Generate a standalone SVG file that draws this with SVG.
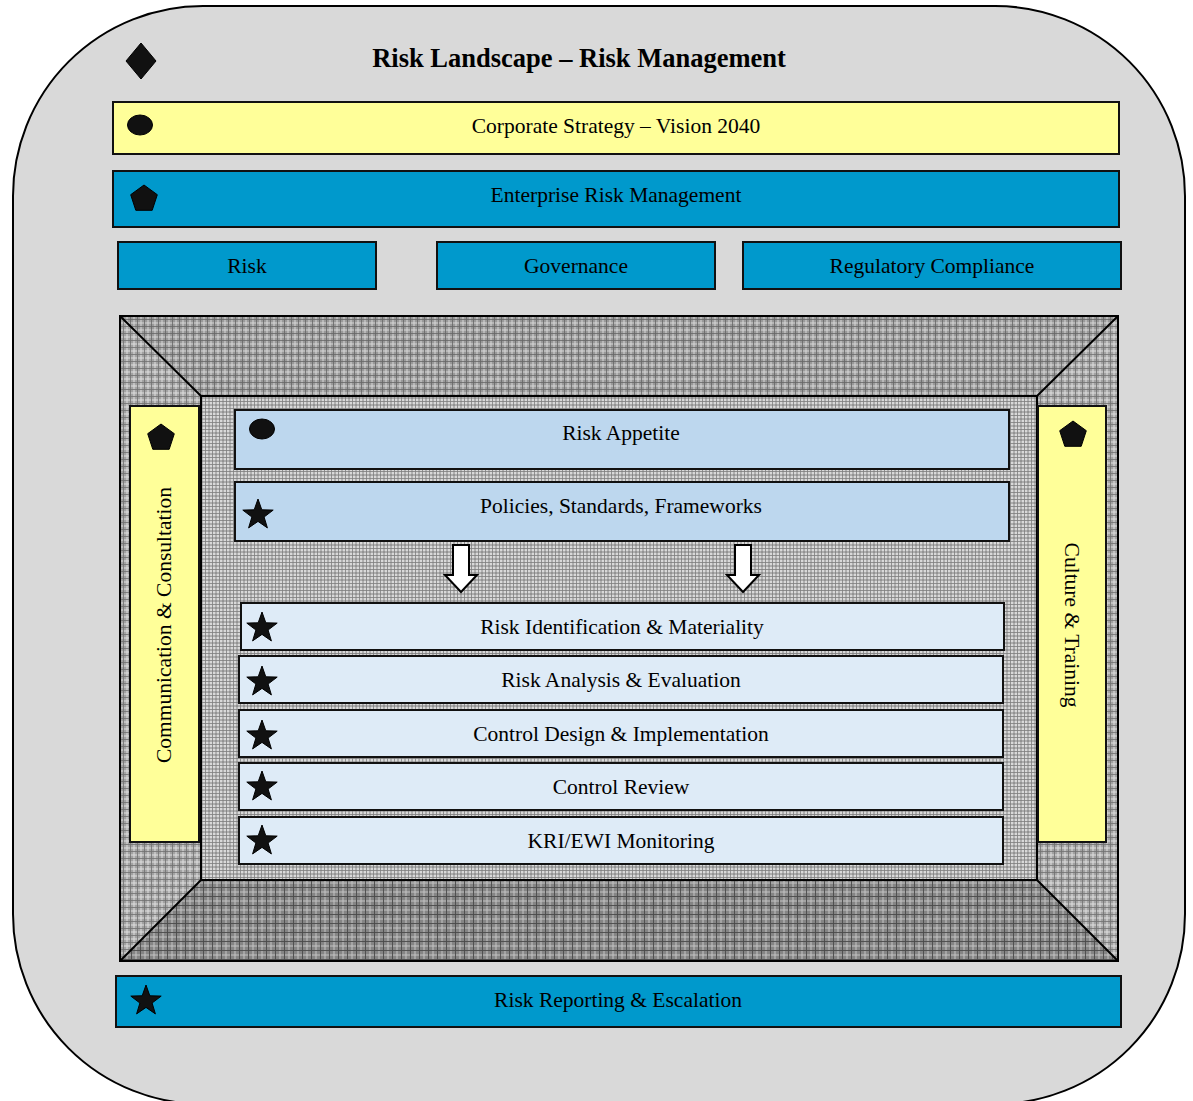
<svg xmlns="http://www.w3.org/2000/svg" width="1193" height="1101" viewBox="0 0 1193 1101">
<style>
.t{font-family:"Liberation Serif","Times New Roman",serif;font-size:21.5px;fill:#000;text-anchor:middle;dominant-baseline:central}
.b{stroke:#111;stroke-width:2}
.y{fill:#FFFF99}
.bl{fill:#0099CC}
.lb{fill:#BDD7EE}
.xb{fill:#DEEBF7}
.ic{fill:#111;stroke:#000;stroke-width:1}
.ln{stroke:#000;stroke-width:2;fill:none}
</style>
<defs>
<pattern id="pIn" width="7" height="7" patternUnits="userSpaceOnUse">
<rect width="7" height="7" fill="#b4b4b4"/>
<path d="M0 1H7M0 4H7" stroke="#ececec" stroke-width="1"/>
<path d="M1 0V7M4 0V7" stroke="#e2e2e2" stroke-width="1"/>
<path d="M0 2.5H7M2.5 0V7M0 6H7M6 0V7" stroke="#808080" stroke-width="0.8"/>
</pattern>
<pattern id="pTop" width="7" height="7" patternUnits="userSpaceOnUse">
<rect width="7" height="7" fill="#999"/>
<path d="M0 1H7M1 0V7" stroke="#d8d8d8" stroke-width="1"/>
<path d="M0 4.5H7M4.5 0V7" stroke="#666" stroke-width="0.8"/>
</pattern>
<pattern id="pSide" width="7" height="7" patternUnits="userSpaceOnUse">
<rect width="7" height="7" fill="#a2a2a2"/>
<path d="M0 1H7M1 0V7" stroke="#e0e0e0" stroke-width="1"/>
<path d="M0 4.5H7M4.5 0V7" stroke="#707070" stroke-width="0.8"/>
</pattern>
<pattern id="pBot" width="9" height="9" patternUnits="userSpaceOnUse">
<rect width="9" height="9" fill="#858585"/>
<path d="M0 1H9M1 0V9" stroke="#c4c4c4" stroke-width="1"/>
<path d="M0 5.5H9M5.5 0V9" stroke="#4a4a4a" stroke-width="0.9"/>
</pattern>
<polygon id="star" points="0,-16 3.8,-5.2 15.2,-4.9 6.1,2 9.4,12.9 0,6.4 -9.4,12.9 -6.1,2 -15.2,-4.9 -3.8,-5.2" class="ic"/>
<polygon id="pent" points="0,-14 13.3,-4.3 8.2,11.3 -8.2,11.3 -13.3,-4.3" class="ic"/>
</defs>

<g id="background">
<rect x="13" y="6" width="1172" height="1098" rx="190" ry="190" fill="#D9D9D9" stroke="#000" stroke-width="2"/>
</g>

<g id="title">
<polygon points="141,43 156,61 141,79 126,61" class="ic"/>
<text x="579" y="58" class="t" style="font-weight:bold;font-size:26.5px">Risk Landscape – Risk Management</text>
</g>

<g id="corporate-strategy">
<rect x="113" y="102" width="1006" height="52" class="y b"/>
<ellipse cx="140" cy="125" rx="12.5" ry="10" class="ic"/>
<text x="616" y="126" class="t">Corporate Strategy – Vision 2040</text>
</g>

<g id="erm">
<rect x="113" y="171" width="1006" height="56" class="bl b"/>
<use href="#pent" x="144" y="199"/>
<text x="616" y="195" class="t">Enterprise Risk Management</text>
</g>

<g id="risk">
<rect x="118" y="242" width="258" height="47" class="bl b"/>
<text x="247" y="266" class="t">Risk</text>
</g>
<g id="governance">
<rect x="437" y="242" width="278" height="47" class="bl b"/>
<text x="576" y="266" class="t">Governance</text>
</g>
<g id="regulatory-compliance">
<rect x="743" y="242" width="378" height="47" class="bl b"/>
<text x="932" y="266" class="t">Regulatory Compliance</text>
</g>

<g id="frame">
<polygon points="120,316 1118,316 1037,396 201,396" fill="url(#pTop)"/>
<polygon points="120,316 201,396 201,880 120,961" fill="url(#pSide)"/>
<polygon points="1118,316 1118,961 1037,880 1037,396" fill="url(#pSide)"/>
<polygon points="120,961 201,880 1037,880 1118,961" fill="url(#pBot)"/>
<rect x="201" y="396" width="836" height="484" fill="url(#pIn)"/>
<rect x="120" y="316" width="998" height="645" class="ln"/>
<rect x="201" y="396" width="836" height="484" class="ln"/>
<path d="M120 316L201 396M1118 316L1037 396M120 961L201 880M1118 961L1037 880" class="ln"/>
</g>

<g id="communication-consultation">
<rect x="130" y="406" width="69" height="436" class="y b"/>
<use href="#pent" x="161" y="438"/>
<text x="164" y="625" class="t" transform="rotate(-90 164 625)">Communication &amp; Consultation</text>
</g>

<g id="culture-training">
<rect x="1038" y="406" width="68" height="436" class="y b"/>
<use href="#pent" x="1073" y="435"/>
<text x="1072" y="625" class="t" transform="rotate(90 1072 625)">Culture &amp; Training</text>
</g>

<g id="risk-appetite">
<rect x="235" y="410" width="774" height="59" class="lb b"/>
<ellipse cx="262" cy="429" rx="12.5" ry="10" class="ic"/>
<text x="621" y="433" class="t">Risk Appetite</text>
</g>

<g id="policies">
<rect x="235" y="482" width="774" height="59" class="lb b"/>
<use href="#star" x="258" y="515"/>
<text x="621" y="506" class="t">Policies, Standards, Frameworks</text>
</g>

<g id="connectors">
<polygon points="453,545 469,545 469,575 477,575 461,592 445,575 453,575" fill="#fff" stroke="#000" stroke-width="2"/>
<polygon points="735,545 751,545 751,575 759,575 743,592 727,575 735,575" fill="#fff" stroke="#000" stroke-width="2"/>
</g>

<g id="risk-identification">
<rect x="241" y="603" width="763" height="47" class="xb b"/>
<use href="#star" x="262" y="628"/>
<text x="622" y="627" class="t">Risk Identification &amp; Materiality</text>
</g>
<g id="risk-analysis">
<rect x="239" y="656" width="764" height="47" class="xb b"/>
<use href="#star" x="262" y="682"/>
<text x="621" y="680" class="t">Risk Analysis &amp; Evaluation</text>
</g>
<g id="control-design">
<rect x="239" y="710" width="764" height="47" class="xb b"/>
<use href="#star" x="262" y="736"/>
<text x="621" y="734" class="t">Control Design &amp; Implementation</text>
</g>
<g id="control-review">
<rect x="239" y="763" width="764" height="47" class="xb b"/>
<use href="#star" x="262" y="787"/>
<text x="621" y="787" class="t">Control Review</text>
</g>
<g id="kri-monitoring">
<rect x="239" y="817" width="764" height="47" class="xb b"/>
<use href="#star" x="262" y="841"/>
<text x="621" y="841" class="t">KRI/EWI Monitoring</text>
</g>

<g id="risk-reporting">
<rect x="116" y="976" width="1005" height="51" class="bl b"/>
<use href="#star" x="146" y="1001"/>
<text x="618" y="1000" class="t">Risk Reporting &amp; Escalation</text>
</g>
</svg>
